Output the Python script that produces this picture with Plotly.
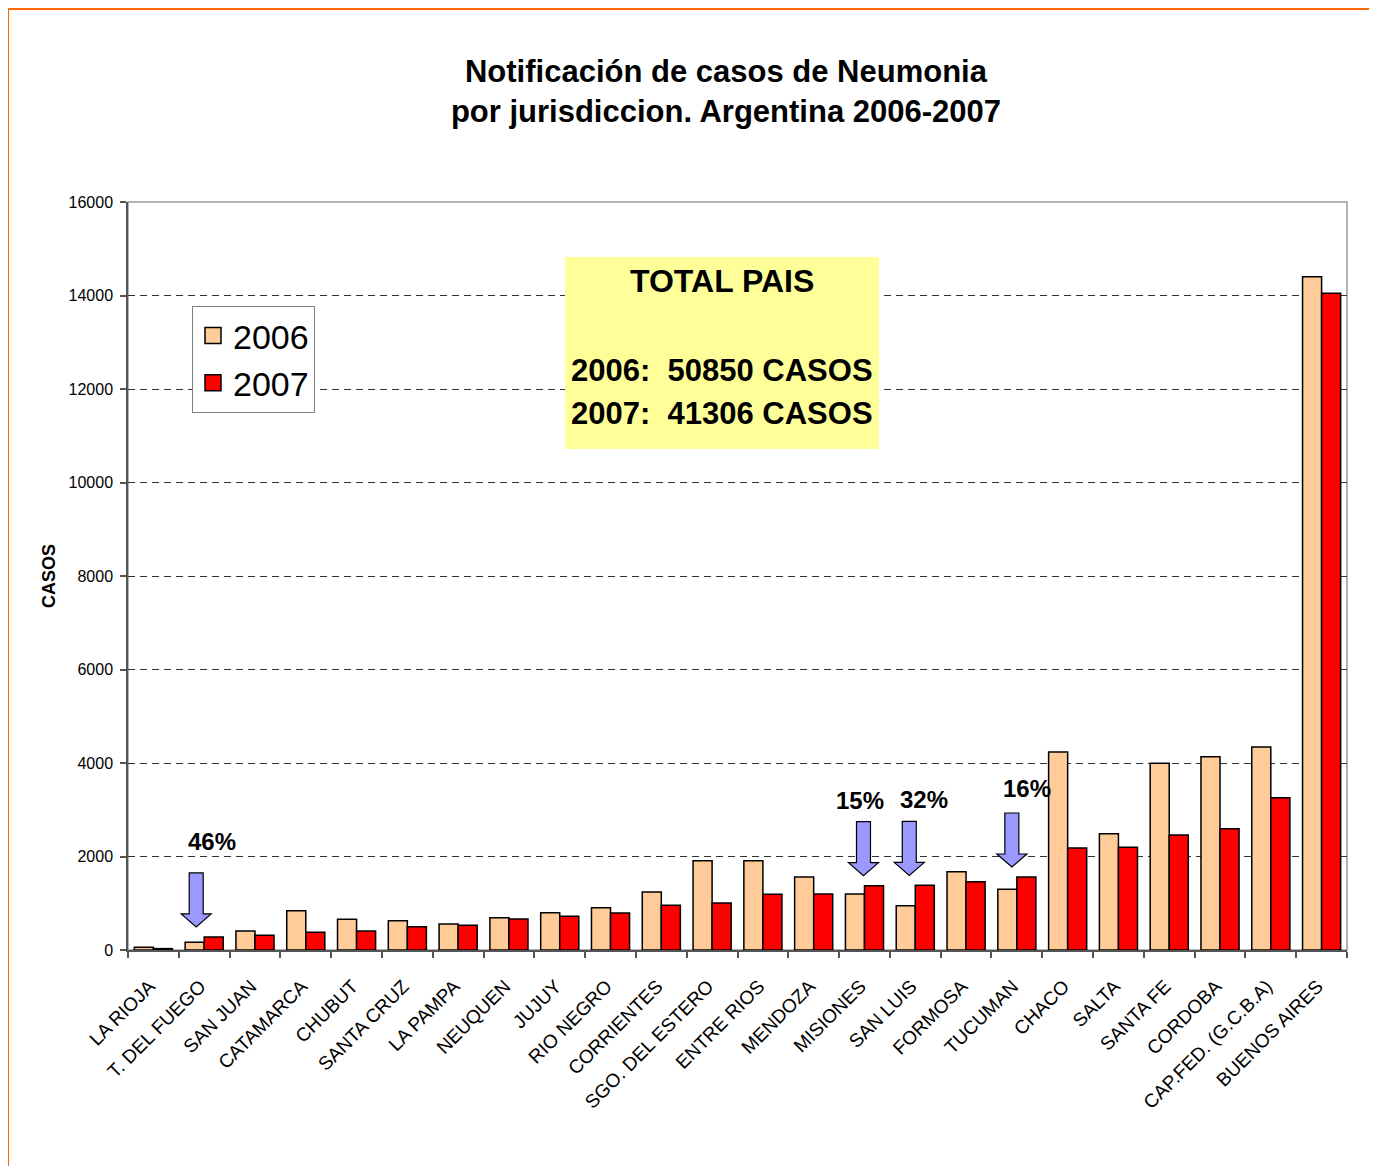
import plotly.graph_objects as go

# ---------------- data ----------------
provincias = ["LA RIOJA", "T. DEL FUEGO", "SAN JUAN", "CATAMARCA", "CHUBUT", "SANTA CRUZ",
              "LA PAMPA", "NEUQUEN", "JUJUY", "RIO NEGRO", "CORRIENTES", "SGO. DEL ESTERO",
              "ENTRE RIOS", "MENDOZA", "MISIONES", "SAN LUIS", "FORMOSA", "TUCUMAN",
              "CHACO", "SALTA", "SANTA FE", "CORDOBA", "CAP.FED. (G.C.B.A)", "BUENOS AIRES"]
casos_2006 = [60, 165, 406, 841, 656, 627, 556, 692, 798, 905, 1241, 1910,
              1910, 1561, 1198, 948, 1676, 1298, 4235, 2488, 3993, 4135, 4342, 14403]
casos_2007 = [30, 280, 314, 378, 406, 499, 528, 663, 720, 791, 955, 1005,
              1191, 1198, 1376, 1383, 1462, 1561, 2182, 2196, 2460, 2595, 3258, 14047]
y_ticks = [0, 2000, 4000, 6000, 8000, 10000, 12000, 14000, 16000]

destacados = ["T. DEL FUEGO", "MISIONES", "SAN LUIS", "TUCUMAN"]
porcentajes = ["46%", "15%", "32%", "16%"]

total_2006 = 50850
total_2007 = 41306

# ---------------- styles ----------------
FONT = "Liberation Sans, Arial, sans-serif"
C06 = "#FFCC99"
C07 = "#FF0000"
ARROW_FILL = "#9999FF"
arrow_dx = [-8, -1, -6, -5]
label_dx = [8, -4, 9, 10]
label_dy = [80, 70, 70, 73]

fig = go.Figure()
fig.add_trace(go.Bar(name="2006", x=provincias, y=casos_2006, showlegend=False, legendgroup="2006",
                     marker=dict(color=C06, line=dict(color="black", width=1.5))))
fig.add_trace(go.Bar(name="2007", x=provincias, y=casos_2007, showlegend=False, legendgroup="2007",
                     marker=dict(color=C07, line=dict(color="black", width=1.5))))
# legend entries with larger square swatches
for nm, col in (("2006", C06), ("2007", C07)):
    fig.add_trace(go.Scatter(name=nm, x=[None], y=[None], mode="markers", legendgroup=nm,
                             marker=dict(symbol="square", size=20, color=col,
                                         line=dict(color="black", width=1.5))))

shapes = []
annotations = []

# plot-area frame (gray)
shapes.append(dict(type="rect", xref="paper", yref="paper", x0=0, x1=1, y0=0, y1=1,
                   line=dict(color="#9a9a9a", width=1.5), layer="below"))
# orange outer border (top and left edges)
shapes.append(dict(type="line", xref="paper", yref="paper", x0=-0.0984, x1=1.05, y0=1.2580, y1=1.2580,
                   line=dict(color="#FF6A00", width=2)))
shapes.append(dict(type="line", xref="paper", yref="paper", x0=-0.0984, x1=-0.0984, y0=-0.32, y1=1.2580,
                   line=dict(color="#FF6A00", width=2)))

# highlight arrows and percentage labels
for cat, pct, adx, ldx, ldy in zip(destacados, porcentajes, arrow_dx, label_dx, label_dy):
    i = provincias.index(cat)
    top = max(casos_2006[i], casos_2007[i])
    path = (f"M {adx-7},64 L {adx+7},64 L {adx+7},23 L {adx+15},23 "
            f"L {adx},10 L {adx-15},23 L {adx-7},23 Z")
    shapes.append(dict(type="path", xref="x", yref="y", xsizemode="pixel", ysizemode="pixel",
                       xanchor=cat, yanchor=top, path=path,
                       fillcolor=ARROW_FILL, line=dict(color="black", width=1.2)))
    annotations.append(dict(x=cat, y=top, xref="x", yref="y", text=f"<b>{pct}</b>",
                            showarrow=False, xshift=ldx, yshift=ldy, yanchor="bottom",
                            font=dict(family=FONT, size=24, color="black")))

# TOTAL PAIS box
shapes.append(dict(type="rect", xref="paper", yref="paper", x0=0.3585, x1=0.6161, y0=0.6698, y1=0.9265,
                   fillcolor="#FFFF99", line=dict(width=0), layer="above"))
annotations.append(dict(xref="paper", yref="paper", x=0.4873, y=0.8944, xanchor="center",
                        yanchor="middle", showarrow=False, text="<b>TOTAL PAIS</b>",
                        font=dict(family=FONT, size=32, color="black")))
annotations.append(dict(xref="paper", yref="paper", x=0.4873, y=0.7754, xanchor="center",
                        yanchor="middle", showarrow=False,
                        text=f"<b>2006:&nbsp; {total_2006} CASOS</b>",
                        font=dict(family=FONT, size=31, color="black")))
annotations.append(dict(xref="paper", yref="paper", x=0.4873, y=0.7166, xanchor="center",
                        yanchor="middle", showarrow=False,
                        text=f"<b>2007:&nbsp; {total_2007} CASOS</b>",
                        font=dict(family=FONT, size=31, color="black")))

fig.update_layout(
    width=1377, height=1166,
    margin=dict(l=120, r=38, t=194, b=224),
    paper_bgcolor="white", plot_bgcolor="white",
    barmode="group", bargap=0.25, bargroupgap=0.0,
    font=dict(family=FONT, color="black"),
    title=dict(text="<b>Notificación de casos de Neumonia<br>por jurisdiccion. Argentina 2006-2007</b>",
               x=0.5214, xanchor="center", y=0.9365, yanchor="middle",
               font=dict(family=FONT, size=31, color="black")),
    legend=dict(x=0.0525, y=0.861, xanchor="left", yanchor="top",
                bgcolor="white", bordercolor="#808080", borderwidth=1,
                itemsizing="trace",
                font=dict(family=FONT, size=34, color="black"),
                tracegroupgap=0),
    shapes=shapes, annotations=annotations,
    xaxis=dict(type="category", tickson="boundaries", ticks="outside", ticklen=6,
               tickcolor="#555", tickwidth=1.5, showline=True, linecolor="#555", linewidth=1.5,
               tickangle=-45, tickfont=dict(family=FONT, size=19, color="black"),
               ticklabelstandoff=16, ticklabelshift=-4,
               showgrid=False, zeroline=False),
    yaxis=dict(range=[0, 16000], tickvals=y_ticks, tickformat="d", ticks="outside", ticklen=6,
               tickcolor="#555", tickwidth=1.5, showline=True, linecolor="#555", linewidth=1.5,
               tickfont=dict(family=FONT, size=16, color="black"), ticklabelstandoff=4,
               showgrid=True, gridcolor="#333", gridwidth=1, griddash="7px,5px",
               zeroline=False,
               title=dict(text="<b>CASOS</b>", font=dict(family=FONT, size=18, color="black"),
                          standoff=8)),
)

fig.write_html("out.html")
